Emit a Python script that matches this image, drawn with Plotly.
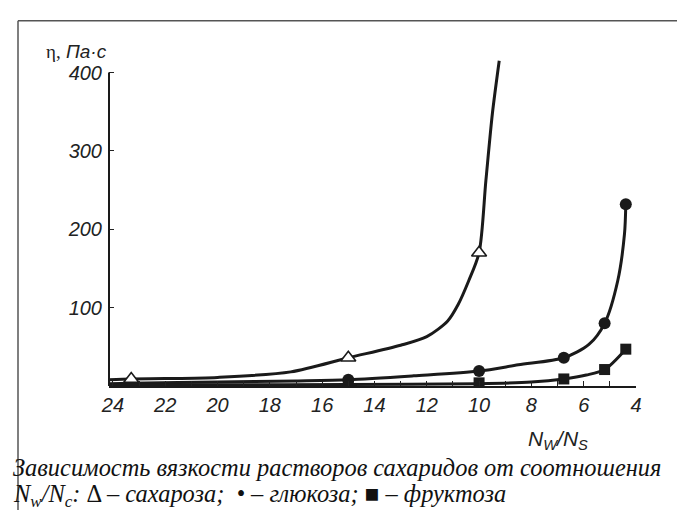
import plotly.graph_objects as go

# ---- data ----
sucrose_pts_x = [23.3, 15.0, 10.0]
sucrose_pts_y = [9, 36, 170]
glucose_pts_x = [23.3, 15.0, 10.0, 6.76, 5.2, 4.39]
glucose_pts_y = [2.5, 8, 19, 36, 80, 232]
fructose_pts_x = [23.3, 15.0, 10.0, 6.76, 5.2, 4.39]
fructose_pts_y = [1, 2, 4, 9, 21, 47]

# curves as traced on the picture
sucrose_curve_x = [24.15, 23.3, 22, 20, 17.2, 15, 13, 12, 11.2, 10.8, 10.4, 10.0, 9.74, 9.49, 9.23]
sucrose_curve_y = [8, 9, 9.5, 11, 18, 36, 52, 63, 83, 104, 134, 170, 262, 348, 415]
glucose_curve_x = [24.15, 23.3, 20, 17, 15, 12.5, 10, 8.5, 6.76, 5.8, 5.2, 4.7, 4.44, 4.39]
glucose_curve_y = [3, 3.5, 5, 6.5, 8, 13, 19, 27, 36, 53, 80, 134, 194, 232]
fructose_curve_x = [24.15, 20, 15, 10, 8, 6.76, 5.9, 5.2, 4.39]
fructose_curve_y = [1.5, 1.5, 2, 3, 5, 9, 14, 21, 47]

x_tick_vals = list(range(4, 25))
x_tick_text = ["<i>%d</i>" % v if v % 2 == 0 else "" for v in x_tick_vals]
y_tick_vals = [100, 200, 300, 400]
y_tick_text = ["<i>%d</i>" % v for v in y_tick_vals]

INK = "#1a1a1a"
LW = 3

fig = go.Figure()
for cx, cy in [(sucrose_curve_x, sucrose_curve_y),
               (glucose_curve_x, glucose_curve_y),
               (fructose_curve_x, fructose_curve_y)]:
    fig.add_trace(go.Scatter(x=cx, y=cy, mode="lines",
                             line=dict(color=INK, width=LW, shape="spline", smoothing=0.8),
                             showlegend=False, hoverinfo="skip"))

fig.add_trace(go.Scatter(x=fructose_pts_x, y=fructose_pts_y, mode="markers",
                         marker=dict(symbol="square", size=11, color=INK),
                         showlegend=False))
fig.add_trace(go.Scatter(x=glucose_pts_x, y=glucose_pts_y, mode="markers",
                         marker=dict(symbol="circle", size=12, color=INK),
                         showlegend=False))
fig.add_trace(go.Scatter(x=sucrose_pts_x, y=sucrose_pts_y, mode="markers",
                         marker=dict(symbol="triangle-up", size=13, color="white",
                                     line=dict(color=INK, width=1.6)),
                         showlegend=False))

tick_font = dict(family="Liberation Sans", size=20, color="#222", style="italic")

fig.update_layout(
    width=685, height=510,
    margin=dict(l=101, r=57, t=52, b=132),
    paper_bgcolor="white", plot_bgcolor="white",
    xaxis=dict(range=[24.15, 4], tickvals=x_tick_vals, ticktext=x_tick_text,
               ticks="inside", ticklen=5, tickwidth=1, tickcolor="#222",
               showline=True, linewidth=2, linecolor=INK, ticklabelstandoff=0,
               showgrid=False, zeroline=False, tickfont=tick_font),
    yaxis=dict(range=[0, 416], tickvals=y_tick_vals, ticktext=y_tick_text,
               ticks="inside", ticklen=5, tickwidth=1, tickcolor="#222",
               ticklabelstandoff=6,
               showline=False, showgrid=False, zeroline=False, tickfont=tick_font),
)

# y axis line up to 400 only (curve runs above it)
fig.add_shape(type="line", xref="paper", yref="y", x0=0, x1=0, y0=0, y1=400,
              line=dict(color=INK, width=2))

# frame lines
PW, PH = 527.0, 326.0
def px(x):
    return (x - 101) / PW
def py(y):
    return (378 - y) / PH

fig.add_shape(type="line", xref="paper", yref="paper", x0=px(10), x1=px(685),
              y0=py(12.7), y1=py(12.7), line=dict(color="#555", width=1.5))
fig.add_shape(type="line", xref="paper", yref="paper", x0=px(10), x1=px(10),
              y0=py(12.7), y1=py(512), line=dict(color="#555", width=1.5))

fig.add_annotation(xref="paper", yref="paper", x=px(36), y=py(44), xanchor="left", yanchor="middle",
                   text='<span style="font-family:Liberation Serif">η,</span> <i>Па·с</i>',
                   showarrow=False, font=dict(family="Liberation Sans", size=19, color="#222"))
fig.add_annotation(xref="paper", yref="paper", x=px(518), y=py(432), xanchor="left", yanchor="middle",
                   text="<i>N<sub>W</sub>/N<sub>S</sub></i>",
                   showarrow=False, font=dict(family="Liberation Sans", size=21, color="#222"))
fig.add_annotation(xref="paper", yref="paper", x=px(3), y=py(460), xanchor="left", yanchor="middle",
                   text="<i>Зависимость вязкости растворов сахаридов от соотношения</i>",
                   showarrow=False, font=dict(family="Liberation Serif", size=24.4, color="#111"))
fig.add_annotation(xref="paper", yref="paper", x=px(3), y=py(487), xanchor="left", yanchor="middle",
                   text="<i>N<sub>w</sub>/N<sub>c</sub>:</i> Δ <i>– сахароза;  • – глюкоза;</i> ■ <i>– фруктоза</i>",
                   showarrow=False, font=dict(family="Liberation Serif", size=24.4, color="#111"))

fig.write_html("out.html")
